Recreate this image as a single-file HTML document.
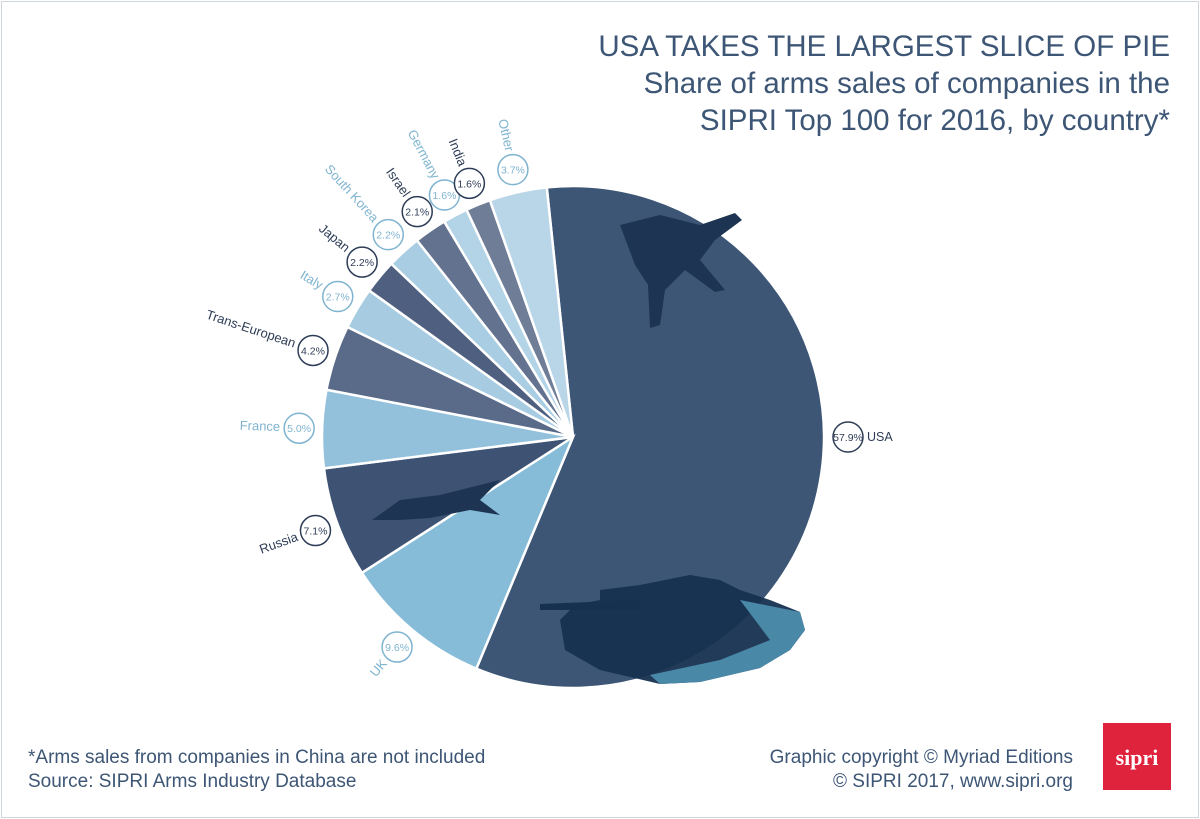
<!DOCTYPE html>
<html><head><meta charset="utf-8"><style>
body{margin:0;width:1200px;height:819px;background:#fff;overflow:hidden;font-family:"Liberation Sans",sans-serif}
.frame{position:absolute;left:1px;top:1px;width:1196px;height:815px;border:1px solid #cfd6de}
.t{position:absolute;right:30px;text-align:right;color:#3d5675;font-size:29.5px;line-height:37px;top:28px}
.f{position:absolute;color:#3d5675;font-size:19px;line-height:24px}
.logo{position:absolute;left:1103px;top:723px;width:68px;height:67px;background:#e0233c;color:#fff;font-family:"Liberation Serif",serif;font-weight:bold;font-size:22px;text-align:center;line-height:70px}
</style></head><body>
<div class="frame"></div>
<div class="t">USA TAKES THE LARGEST SLICE OF PIE<br>Share of arms sales of companies in the<br>SIPRI Top 100 for 2016, by country*</div>
<div class="f" style="left:28px;top:746px">*Arms sales from companies in China are not included<br>Source: SIPRI Arms Industry Database</div>
<div class="f" style="right:127px;top:746px;text-align:right">Graphic copyright © Myriad Editions<br>© SIPRI 2017, www.sipri.org</div>
<div class="logo">sipri</div>
<svg id="s" width="1200" height="819" style="position:absolute;left:0;top:0"></svg>
<script>
var cx=573,cy=437,R=251;
var d=[["USA",57.9,"#3d5675",1],["UK",9.6,"#86bcd8",0],["Russia",7.1,"#3e5274",1],["France",5.0,"#93c1dc",0],["Trans-European",4.2,"#5a6a89",1],["Italy",2.7,"#a7cce2",0],["Japan",2.2,"#4f5f7f",1],["South Korea",2.2,"#a9cde3",0],["Israel",2.1,"#63728f",1],["Germany",1.6,"#b3d4e7",0],["India",1.6,"#6f7d97",1],["Other",3.7,"#b9d6e8",0]];
var s='',a=-6;
function P(r,ang){var t=ang*Math.PI/180;return [cx+r*Math.sin(t),cy-r*Math.cos(t)];}
var labels='';
d.forEach(function(e){
 var sw=e[1]/99.9*360,a2=a+sw,p1=P(R,a),p2=P(R,a2);
 s+='<path d="M'+cx+','+cy+'L'+p1[0]+','+p1[1]+'A'+R+','+R+' 0 '+(sw>180?1:0)+' 1 '+p2[0]+','+p2[1]+'Z" fill="'+e[2]+'" stroke="#fff" stroke-width="2.5"/>';
 var m=a+sw/2,col=e[3]?'#2e3d57':'#7fb4d0';
 var pct=e[1].toFixed(1)+'%';
 if(e[0]=="USA"){
  labels+='<circle cx="848" cy="437" r="15" fill="#fff" stroke="'+col+'" stroke-width="1.5"/><text x="848" y="441" font-size="10.5" text-anchor="middle" fill="'+col+'">'+pct+'</text><text x="867" y="441" font-size="12.5" fill="'+col+'">USA</text>';
 } else {
  var c=P(274,m);
  labels+='<circle cx="'+c[0]+'" cy="'+c[1]+'" r="15" fill="#fff" stroke="'+col+'" stroke-width="1.5"/><text x="'+c[0]+'" y="'+(c[1]+4)+'" font-size="10.5" text-anchor="middle" fill="'+col+'">'+pct+'</text>';
  var q=P(293,m);
  labels+='<text x="'+q[0]+'" y="'+q[1]+'" font-size="13" fill="'+col+'" text-anchor="end" dominant-baseline="middle" transform="rotate('+(m+90)+' '+q[0]+' '+q[1]+')">'+e[0]+'</text>';
 }
 a=a2;
});
s+='<path d="M560,620 L575,605 L600,600 L600,590 L640,585 L690,575 L720,580 L740,590 L770,600 L800,612 L805,630 L790,650 L760,668 L700,682 L660,684 L600,670 L565,650 Z" fill="#16304f" opacity="0.95"/>';
s+='<path d="M540,604 L640,600 L640,610 L540,610 Z" fill="#16304f"/>';
s+='<path d="M740,600 L800,612 L805,630 L790,650 L760,668 L700,682 L660,684 L650,675 L720,660 L770,640 Z" fill="#4a88a8"/>';
s+='<path d="M620,225 L660,215 L700,225 L735,213 L742,220 L715,240 L700,260 L725,290 L715,292 L685,270 L665,290 L660,325 L650,328 L648,285 L635,265 Z" fill="#1d3552"/>';
s+='<path d="M372,520 L400,500 L440,495 L500,480 L480,500 L500,515 L470,510 L430,518 L400,520 Z" fill="#1d3552"/>';
document.getElementById('s').innerHTML=s+labels;
</script>
</body></html>
